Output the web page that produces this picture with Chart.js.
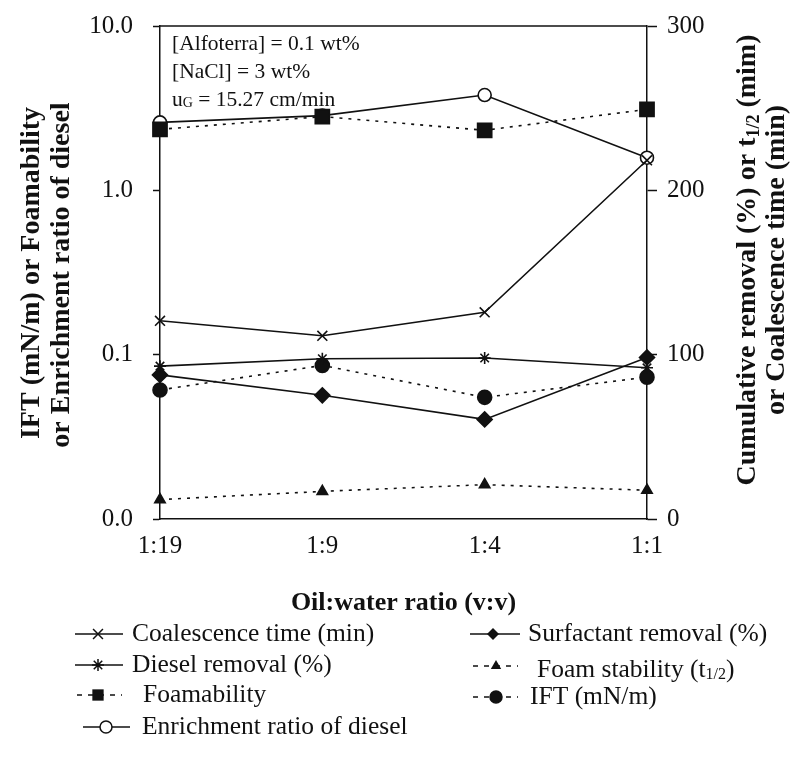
<!DOCTYPE html>
<html><head><meta charset="utf-8">
<script src="https://cdn.jsdelivr.net/npm/chart.js@4.4.0/dist/chart.umd.min.js"></script>
<style>html,body{margin:0;padding:0;background:#fff;}#wrap{width:798px;height:765px;}</style>
</head><body><div id="wrap"><canvas id="c" width="798" height="765"></canvas></div>
<script>
// ---- data ----
const categories = ['1:19', '1:9', '1:4', '1:1'];
const coalescenceTime = [120.6, 111.5, 125.8, 218.3];   // right axis (min)
const dieselRemoval = [93, 97.5, 98, 92];               // right axis (%)
const surfactantRemoval = [87.7, 75.3, 60.6, 98.3];     // right axis (%)
const foamStability = [11.8, 16.8, 20.9, 17.5];         // right axis (t1/2)
const foamability = [2.35, 2.81, 2.32, 3.11];           // left log axis
const enrichmentRatio = [2.59, 2.85, 3.80, 1.58];       // left log axis
const ift = [0.061, 0.086, 0.055, 0.073];               // left log axis
const leftTicks = [0.01, 0.1, 1, 10];
const rightTicks = [0, 100, 200, 300];

const SERIF = '"Liberation Serif", "Times New Roman", serif';
const INK = '#111';
const DOT = [3, 6];

function ds(label, data, axis, style, r, fill, dashed) {
  return {
    label, data, yAxisID: axis, borderColor: INK, borderWidth: 1.6,
    borderDash: dashed ? DOT : [], pointStyle: style, pointRadius: r, pointHoverRadius: r,
    pointBorderColor: INK, pointBorderWidth: 1.6,
    pointBackgroundColor: fill === 'white' ? '#fff' : (fill ? INK : 'rgba(0,0,0,0)'),
    backgroundColor: INK, fill: false, tension: 0, clip: false
  };
}

function drawMarker(ctx, style, x, y, r, fill) {
  ctx.save();
  ctx.setLineDash([]);
  ctx.strokeStyle = INK; ctx.fillStyle = fill === 'white' ? '#fff' : INK; ctx.lineWidth = 1.5;
  ctx.beginPath();
  const d = r * Math.SQRT1_2;
  if (style === 'crossRot' || style === 'star') {
    ctx.moveTo(x - d, y - d); ctx.lineTo(x + d, y + d);
    ctx.moveTo(x + d, y - d); ctx.lineTo(x - d, y + d);
    if (style === 'star') { ctx.moveTo(x, y - r); ctx.lineTo(x, y + r); ctx.moveTo(x - r, y); ctx.lineTo(x + r, y); }
    ctx.stroke();
  } else if (style === 'rect') {
    ctx.rect(x - d, y - d, 2 * d, 2 * d); ctx.fill();
  } else if (style === 'rectRot') {
    ctx.moveTo(x, y - r); ctx.lineTo(x + r, y); ctx.lineTo(x, y + r); ctx.lineTo(x - r, y); ctx.closePath(); ctx.fill();
  } else if (style === 'triangle') {
    ctx.moveTo(x, y - r); ctx.lineTo(x + r * 0.866, y + r * 0.5); ctx.lineTo(x - r * 0.866, y + r * 0.5); ctx.closePath(); ctx.fill();
  } else if (style === 'circle') {
    ctx.arc(x, y, r, 0, Math.PI * 2); ctx.fill(); ctx.stroke();
  }
  ctx.restore();
}

function drawParts(ctx, parts, x, y, align) {
  let total = 0;
  parts.forEach(p => { ctx.font = p.font; p.w = ctx.measureText(p.t).width; total += p.w; });
  let cx = align === 'center' ? x - total / 2 : x;
  parts.forEach(p => { ctx.font = p.font; ctx.fillText(p.t, cx, y + (p.dy || 0)); cx += p.w; });
}

function drawVertical(ctx, parts, cx, cy) {
  ctx.save();
  ctx.translate(cx, cy);
  ctx.rotate(-Math.PI / 2);
  ctx.textAlign = 'left'; ctx.textBaseline = 'middle';
  drawParts(ctx, parts, 0, 0, 'center');
  ctx.restore();
}

const decor = {
  id: 'decor',
  afterDraw(chart) {
    const ctx = chart.ctx, a = chart.chartArea;
    ctx.save();
    ctx.fillStyle = INK; ctx.strokeStyle = INK;
    // top frame line
    ctx.lineWidth = 1.5; ctx.beginPath(); ctx.moveTo(a.left, a.top); ctx.lineTo(a.right, a.top); ctx.stroke();
    // annotation text
    ctx.textAlign = 'left'; ctx.textBaseline = 'middle';
    const F = '21.5px ' + SERIF;
    drawParts(ctx, [{t: '[Alfoterra] = 0.1 wt%', font: F}], 172, 44, 'left');
    drawParts(ctx, [{t: '[NaCl] = 3 wt%', font: F}], 172, 72, 'left');
    drawParts(ctx, [{t: 'u', font: F}, {t: 'G', font: '14px ' + SERIF, dy: 3}, {t: ' = 15.27 cm/min', font: F}], 172, 100, 'left');
    // axis titles
    const B = 'bold 28px ' + SERIF, BS = 'bold 18px ' + SERIF;
    drawVertical(ctx, [{t: 'IFT (mN/m) or Foamability', font: B}], 32, 273);
    drawVertical(ctx, [{t: 'or Enrichment ratio of diesel', font: B}], 62, 275);
    drawVertical(ctx, [{t: 'Cumulative removal (%) or t', font: B}, {t: '1/2', font: BS, dy: 6}, {t: ' (mim)', font: B}], 748, 260);
    drawVertical(ctx, [{t: 'or Coalescence time (min)', font: B}], 777, 260);
    // x title
    drawParts(ctx, [{t: 'Oil:water ratio (v:v)', font: 'bold 26px ' + SERIF}], (a.left + a.right) / 2, 603, 'center');
    // legend
    const dsets = chart.data.datasets;
    const L = '25.5px ' + SERIF;
    const items = [
      {i: 0, y: 634, x1: 75, x2: 123, mx: 98, tx: 132, r: 7},
      {i: 1, y: 665, x1: 75, x2: 123, mx: 98, tx: 132, r: 6},
      {i: 2, y: 695, x1: 77, x2: 122, mx: 98, tx: 143, r: 8},
      {i: 3, y: 727, x1: 83, x2: 130, mx: 106, tx: 142, r: 6},
      {i: 4, y: 634, x1: 470, x2: 520, mx: 493, tx: 528, r: 6},
      {i: 5, y: 666, x1: 473, x2: 518, mx: 496, tx: 537, r: 6, sub: true},
      {i: 6, y: 697, x1: 473, x2: 518, mx: 496, tx: 530, r: 6}
    ];
    items.forEach(it => {
      const d = dsets[it.i];
      ctx.save();
      ctx.lineWidth = 1.5; ctx.strokeStyle = INK;
      ctx.setLineDash(d.borderDash.length ? [5, 6] : []);
      ctx.beginPath(); ctx.moveTo(it.x1, it.y); ctx.lineTo(it.x2, it.y); ctx.stroke();
      ctx.restore();
      const fill = d.pointBackgroundColor === '#fff' ? 'white' : true;
      drawMarker(ctx, d.pointStyle, it.mx, it.y, it.r, fill);
      ctx.fillStyle = INK; ctx.textAlign = 'left'; ctx.textBaseline = 'middle';
      if (it.sub) {
        drawParts(ctx, [{t: 'Foam stability (t', font: L}, {t: '1/2', font: '16px ' + SERIF, dy: 5}, {t: ')', font: L}], it.tx, it.y + 4, 'left');
      } else {
        drawParts(ctx, [{t: d.label, font: L}], it.tx, it.y, 'left');
      }
    });
    ctx.restore();
  }
};

const tickFont = {family: SERIF, size: 25};
new Chart(document.getElementById('c'), {
  type: 'line',
  data: {
    labels: categories,
    datasets: [
      ds('Coalescence time (min)', coalescenceTime, 'yR', 'crossRot', 7, false, false),
      ds('Diesel removal (%)', dieselRemoval, 'yR', 'star', 6, false, false),
      ds('Foamability', foamability, 'yL', 'rect', 10, true, true),
      ds('Enrichment ratio of diesel', enrichmentRatio, 'yL', 'circle', 6.5, 'white', false),
      ds('Surfactant removal (%)', surfactantRemoval, 'yR', 'rectRot', 7.5, true, false),
      ds('Foam stability (t1/2)', foamStability, 'yR', 'triangle', 6, true, true),
      ds('IFT (mN/m)', ift, 'yL', 'circle', 7, true, true)
    ]
  },
  options: {
    responsive: false, devicePixelRatio: 1, animation: false,
    layout: {padding: {top: 26, bottom: 196, left: 0, right: 0}},
    plugins: {legend: {display: false}, tooltip: {enabled: false}},
    scales: {
      x: {
        type: 'category', offset: false,
        grid: {display: true, drawOnChartArea: false, drawTicks: false},
        border: {display: true, color: INK, width: 1.5},
        ticks: {font: tickFont, color: INK, padding: 12, maxRotation: 0, autoSkip: false},
        afterFit: s => { s.height = 50; s.paddingLeft = 0; s.paddingRight = 0; }
      },
      yL: {
        type: 'logarithmic', position: 'left', min: 0.01, max: 10,
        afterBuildTicks: s => { s.ticks = leftTicks.map(v => ({value: v})); },
        grid: {display: true, drawOnChartArea: false, drawTicks: true, tickLength: 7, tickColor: INK, tickWidth: 1.5},
        border: {display: true, color: INK, width: 1.5},
        ticks: {font: tickFont, color: INK, padding: 20, callback: v => Number(v).toFixed(1)},
        afterFit: s => { s.width = 160; s.paddingTop = 0; s.paddingBottom = 0; }
      },
      yR: {
        type: 'linear', position: 'right', min: 0, max: 300,
        afterBuildTicks: s => { s.ticks = rightTicks.map(v => ({value: v})); },
        grid: {display: true, drawOnChartArea: false, drawTicks: true, tickLength: 10, tickColor: INK, tickWidth: 1.5},
        border: {display: true, color: INK, width: 1.5},
        ticks: {font: tickFont, color: INK, padding: 10, callback: v => String(v)},
        afterFit: s => { s.width = 151; s.paddingTop = 0; s.paddingBottom = 0; }
      }
    }
  },
  plugins: [decor]
});
</script>
</body></html>
